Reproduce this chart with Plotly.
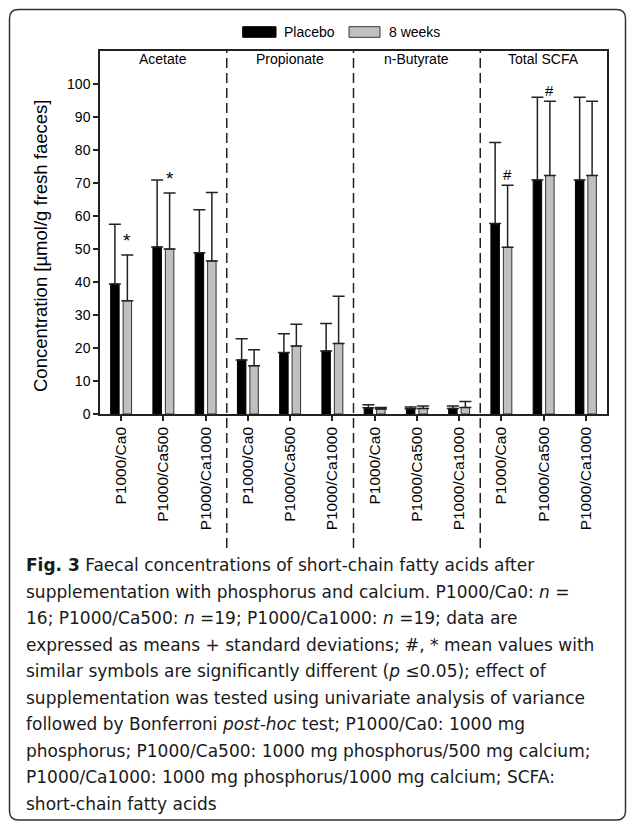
import plotly.graph_objects as go

# ---------------- data ----------------
groups = ["Acetate", "Propionate", "n-Butyrate", "Total SCFA"]
doses = ["P1000/Ca0", "P1000/Ca500", "P1000/Ca1000"]

placebo_mean = [39.4, 50.6, 48.9,
                16.4, 18.6, 19.1,
                1.9, 1.6, 1.7,
                57.7, 70.9, 70.9]
placebo_sd = [18.1, 20.3, 13.0,
              6.4, 5.7, 8.3,
              0.9, 0.5, 0.7,
              24.6, 25.1, 25.1]
week8_mean = [34.3, 50.0, 46.4,
              14.6, 20.6, 21.4,
              1.5, 1.7, 2.0,
              50.5, 72.3, 72.3]
week8_sd = [13.9, 17.0, 20.7,
            4.9, 6.6, 14.3,
            0.5, 0.7, 1.8,
            18.8, 22.5, 22.5]
week8_sig = ["*", "*", "",
             "", "", "",
             "", "", "",
             "#", "#", ""]

series_names = ["Placebo", "8 weeks"]
y_ticks = list(range(0, 101, 10))
y_title = "Concentration [µmol/g fresh faeces]"

caption_lines = [
    "<b>Fig. 3</b> Faecal concentrations of short-chain fatty acids after",
    "supplementation with phosphorus and calcium. P1000/Ca0: <i>n</i> =",
    "16; P1000/Ca500: <i>n</i> =19; P1000/Ca1000: <i>n</i> =19; data are",
    "expressed as means + standard deviations; #, * mean values with",
    "similar symbols are significantly different (<i>p</i> ≤0.05); effect of",
    "supplementation was tested using univariate analysis of variance",
    "followed by Bonferroni <i>post-hoc</i> test; P1000/Ca0: 1000 mg",
    "phosphorus; P1000/Ca500: 1000 mg phosphorus/500 mg calcium;",
    "P1000/Ca1000: 1000 mg phosphorus/1000 mg calcium; SCFA:",
    "short-chain fatty acids",
]

# ---------------- derived ----------------
n_per = len(doses)
labels = [d for g in groups for d in doses]
xs = list(range(len(labels)))

# ---------------- geometry ----------------
W, H = 627, 822
L, R, T, B = 100, 20, 51, 408
PW, PH = W - L - R, H - T - B


def pxx(px):
    return (px - L) / PW


def pxy(py):
    return (H - B - py) / PH


CHART_FONT = "Liberation Sans, Arial, sans-serif"
CAP_FONT = "DejaVu Sans, sans-serif"
DARK = "#222222"

fig = go.Figure()
fig.add_trace(go.Bar(
    x=xs, y=placebo_mean, name=series_names[0],
    marker=dict(color="#000000", line=dict(color="#000000", width=1)),
    error_y=dict(type="data", array=placebo_sd, arrayminus=[0] * len(xs),
                 symmetric=False, color=DARK, thickness=1.5, width=6),
    showlegend=False,
))
fig.add_trace(go.Bar(
    x=xs, y=week8_mean, name=series_names[1],
    marker=dict(color="#c0c0c0", line=dict(color="#333333", width=1)),
    error_y=dict(type="data", array=week8_sd, arrayminus=[0] * len(xs),
                 symmetric=False, color=DARK, thickness=1.5, width=6),
    showlegend=False,
))

shapes = []
annotations = []

# panel separators (dashed), extending into tick-label area
for k in range(1, len(groups)):
    xb = k * n_per - 0.5
    shapes.append(dict(type="line", xref="x", yref="paper",
                       x0=xb, x1=xb, y0=pxy(548), y1=1,
                       line=dict(color=DARK, width=1.5, dash="10px,5px")))

# panel labels
for k, g in enumerate(groups):
    annotations.append(dict(text=g, xref="x", yref="paper",
                            x=k * n_per + (n_per - 1) / 2, y=pxy(59),
                            xanchor="center", yanchor="middle", showarrow=False,
                            font=dict(family=CHART_FONT, size=14, color="#000")))

# significance markers above 8-week error bars
for i, s in enumerate(week8_sig):
    if s:
        annotations.append(dict(text=s, xref="x", yref="y", x=xs[i],
                                y=week8_mean[i] + week8_sd[i], xshift=6.2,
                                yshift=(2 if s == "*" else 0),
                                xanchor="center", yanchor="bottom", showarrow=False,
                                font=dict(family=CHART_FONT, size=(19 if s == "*" else 15),
                                          color="#000")))

# legend (manual)
shapes.append(dict(type="rect", xref="paper", yref="paper",
                   x0=pxx(242.7), x1=pxx(276), y0=pxy(37.3), y1=pxy(26.7),
                   fillcolor="#000000", line=dict(color="#000000", width=1)))
shapes.append(dict(type="rect", xref="paper", yref="paper",
                   x0=pxx(349), x1=pxx(380), y0=pxy(37.3), y1=pxy(26.7),
                   fillcolor="#c0c0c0", line=dict(color="#333333", width=1)))
annotations.append(dict(text=series_names[0], xref="paper", yref="paper",
                        x=pxx(282), y=pxy(32), xanchor="left", yanchor="middle",
                        showarrow=False, font=dict(family=CHART_FONT, size=14, color="#000")))
annotations.append(dict(text=series_names[1], xref="paper", yref="paper",
                        x=pxx(387), y=pxy(32), xanchor="left", yanchor="middle",
                        showarrow=False, font=dict(family=CHART_FONT, size=14, color="#000")))

# y-axis title
annotations.append(dict(text=y_title, xref="paper", yref="paper",
                        x=pxx(40), y=pxy(246), xanchor="center", yanchor="middle",
                        textangle=-90, showarrow=False,
                        font=dict(family=CHART_FONT, size=18.5, color="#000")))

# caption
for j, line in enumerate(caption_lines):
    annotations.append(dict(text=line, xref="paper", yref="paper",
                            x=pxx(24), y=pxy(565 + j * 26.55),
                            xanchor="left", yanchor="middle", showarrow=False,
                            font=dict(family=CAP_FONT, size=17, color="#1a1a1a")))

# outer rounded frame
x0, y0, x1, y1, r = 9.5, 9.5, 625.5, 820.0, 9


def P(px, py):
    return f"{pxx(px):.5f},{pxy(py):.5f}"


path = (f"M {P(x0 + r, y0)} L {P(x1 - r, y0)} Q {P(x1, y0)} {P(x1, y0 + r)} "
        f"L {P(x1, y1 - r)} Q {P(x1, y1)} {P(x1 - r, y1)} "
        f"L {P(x0 + r, y1)} Q {P(x0, y1)} {P(x0, y1 - r)} "
        f"L {P(x0, y0 + r)} Q {P(x0, y0)} {P(x0 + r, y0)} Z")
shapes.append(dict(type="path", xref="paper", yref="paper", path=path,
                   line=dict(color="#333333", width=1.5)))

fig.update_layout(
    width=W, height=H,
    margin=dict(l=L, r=R, t=T, b=B, pad=0),
    paper_bgcolor="white", plot_bgcolor="white",
    barmode="group", bargap=0.41, bargroupgap=0.32,
    showlegend=False,
    shapes=shapes, annotations=annotations,
    font=dict(family=CHART_FONT, color="#000"),
    xaxis=dict(range=[-0.5, len(xs) - 0.5], tickmode="array", tickvals=xs,
               ticktext=labels, tickangle=-90, ticks="outside", ticklen=5,
               tickwidth=1.5, tickcolor=DARK, showline=True, linecolor=DARK,
               linewidth=1.5, mirror=True, showgrid=False, zeroline=False,
               tickfont=dict(family=CHART_FONT, size=15.5, color="#000")),
    yaxis=dict(range=[0, 110], tickmode="array", tickvals=y_ticks,
               ticks="outside", ticklen=5, tickwidth=1.5, tickcolor=DARK,
               showline=True, linecolor=DARK, linewidth=1.5, mirror=True,
               showgrid=False, zeroline=False,
               tickfont=dict(family=CHART_FONT, size=14, color="#000")),
)

fig.write_html("out.html", config={"displayModeBar": False})
